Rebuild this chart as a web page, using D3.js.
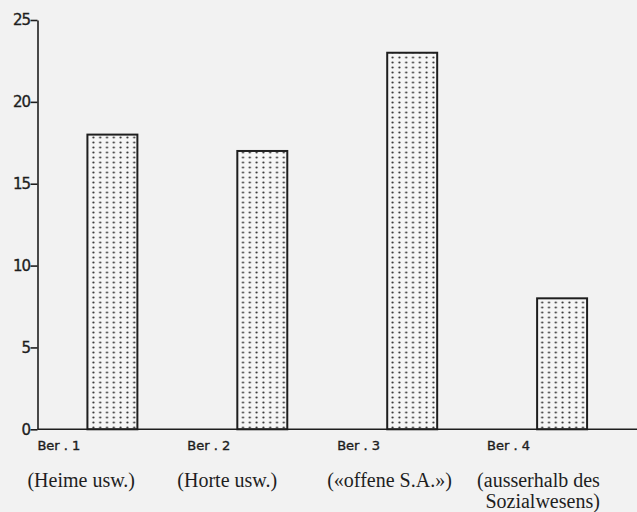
<!DOCTYPE html>
<html>
<head>
<meta charset="utf-8">
<script src="https://cdn.jsdelivr.net/npm/d3@7/dist/d3.min.js"></script>
<style>
  html, body { margin: 0; padding: 0; background: #f2f2f2; }
  svg { display: block; }
</style>
</head>
<body>
<svg id="chart" width="637" height="512"></svg>
<script>
// ---- data ----
const categories = ["Ber . 1", "Ber . 2", "Ber . 3", "Ber . 4"];
const values = [18, 17, 23, 8];
const descriptions = [["(Heime usw.)"], ["(Horte usw.)"], ["(«offene S.A.»)"], ["(ausserhalb des", "Sozialwesens)"]];
const yTicks = [0, 5, 10, 15, 20, 25];

// ---- layout ----
const W = 637, H = 512;
const axisX = 37.5, baseY = 429.3, topY = 20;
const ink = "#1e1e1e";

const svg = d3.select("#chart");
svg.append("rect").attr("width", W).attr("height", H).attr("fill", "#f2f2f2");

const defs = svg.append("defs");
const pat = defs.append("pattern")
  .attr("id", "dots").attr("patternUnits", "userSpaceOnUse")
  .attr("width", 6.8).attr("height", 5).attr("x", 90).attr("y", 0);
pat.append("rect").attr("width", 6.8).attr("height", 5).attr("fill", "#f6f6f6");
pat.append("circle").attr("cx", 3.4).attr("cy", 2.5).attr("r", 1.1).attr("fill", "#333");

const y = d3.scaleLinear().domain([0, 25]).range([baseY, topY]);
const x = d3.scaleBand().domain(categories).range([axisX, W]).paddingInner(2/3).paddingOuter(0.333);

// bars
svg.append("g").selectAll("rect").data(categories).join("rect")
  .attr("x", d => x(d))
  .attr("y", (d, i) => y(values[i]))
  .attr("width", x.bandwidth())
  .attr("height", (d, i) => baseY - y(values[i]))
  .attr("fill", "url(#dots)")
  .attr("stroke", ink).attr("stroke-width", 2);

// baseline
svg.append("line").attr("x1", axisX).attr("x2", W).attr("y1", baseY).attr("y2", baseY)
  .attr("stroke", ink).attr("stroke-width", 1.6);

// y axis
const yAxis = d3.axisLeft(y).tickValues(yTicks).tickSize(7).tickPadding(0.5).tickSizeOuter(0);
const gy = svg.append("g").attr("transform", `translate(${axisX},0)`).call(yAxis);
gy.select(".domain").attr("stroke", ink).attr("stroke-width", 1.6);
gy.selectAll(".tick line").attr("stroke", ink).attr("stroke-width", 1.6);
gy.selectAll(".tick text").attr("fill", ink)
  .attr("font-family", "DejaVu Sans, sans-serif").attr("font-size", 15)
  .attr("letter-spacing", "-1px")
  .attr("stroke", ink).attr("stroke-width", 0.35);

// Ber labels
svg.append("g").selectAll("text").data(categories).join("text")
  .attr("x", d => x(d) - 50)
  .attr("y", 450)
  .attr("fill", ink)
  .attr("font-family", "DejaVu Sans, sans-serif").attr("font-size", 13)
  .attr("stroke", ink).attr("stroke-width", 0.4)
  .text(d => d);

// descriptions
const gd = svg.append("g");
categories.forEach((c, i) => {
  const lines = descriptions[i];
  const x0 = x(c) - 60;
  const t0 = gd.append("text")
    .attr("x", x0).attr("y", 487)
    .attr("fill", ink)
    .attr("font-family", "Liberation Serif, Times New Roman, serif").attr("font-size", 20)
    .text(lines[0]);
  if (lines.length > 1) {
    const w = t0.node().getComputedTextLength();
    gd.append("text")
      .attr("x", x0 + w).attr("y", 508)
      .attr("text-anchor", "end")
      .attr("fill", ink)
      .attr("font-family", "Liberation Serif, Times New Roman, serif").attr("font-size", 20)
      .text(lines[1]);
  }
});
</script>
</body>
</html>
